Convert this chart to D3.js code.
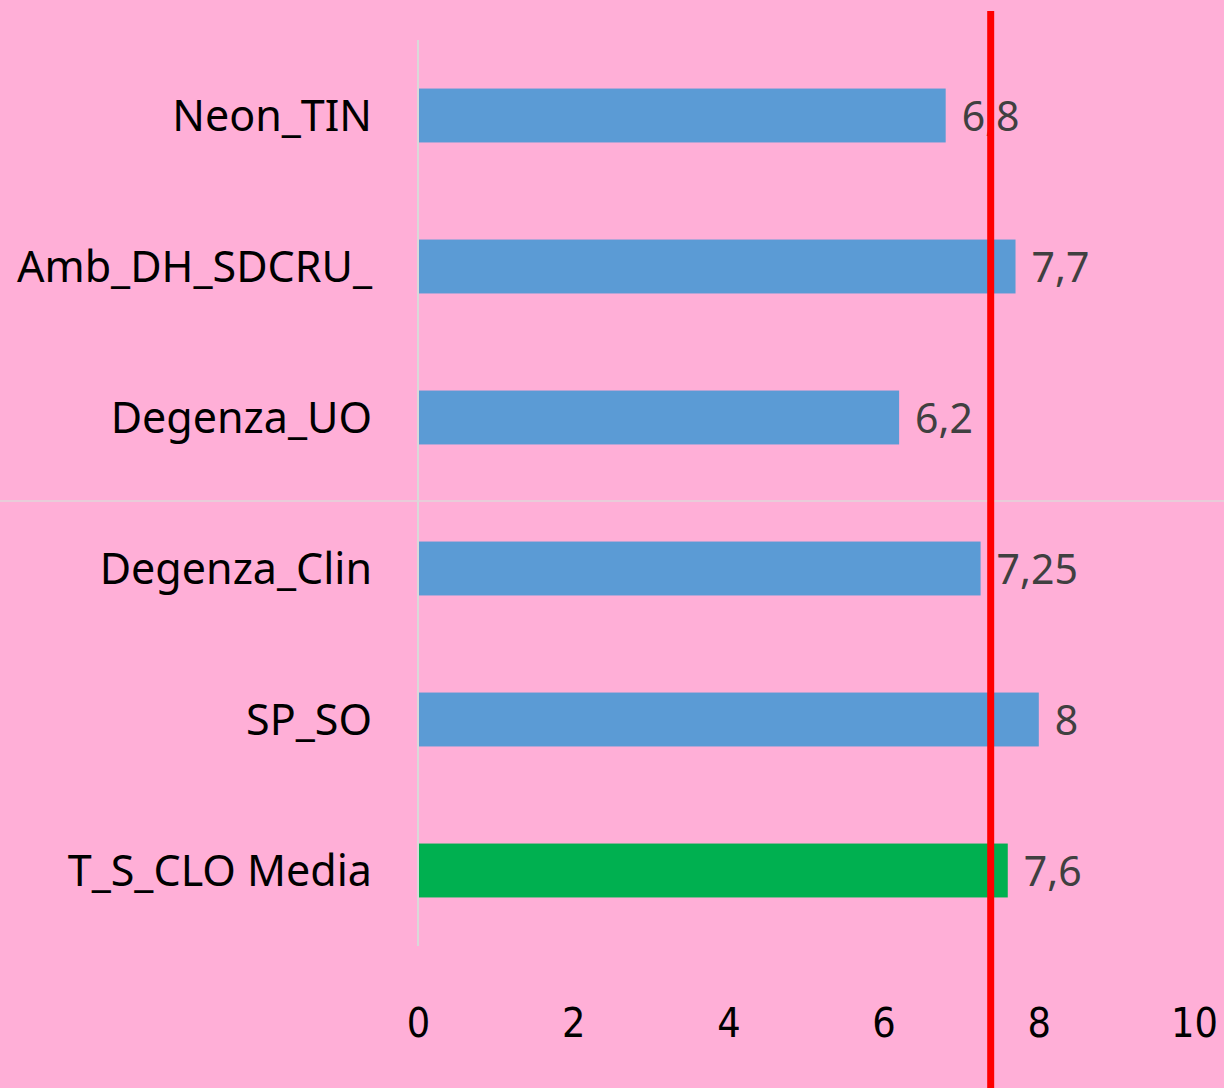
<!DOCTYPE html>
<html>
<head>
<meta charset="utf-8">
<script src="https://cdn.jsdelivr.net/npm/d3@7"></script>
<style>
  html, body { margin: 0; padding: 0; background: #FFAFD7; }
  svg { display: block; }
</style>
</head>
<body>
<div class="chart"></div>
<script>
const categories = ['Neon_TIN', 'Amb_DH_SDCRU_', 'Degenza_UO', 'Degenza_Clin', 'SP_SO', 'T_S_CLO Media'];
const values = [6.8, 7.7, 6.2, 7.25, 8, 7.6];
const labels = ['6,8', '7,7', '6,2', '7,25', '8', '7,6'];
const colors = ['#5B9BD5', '#5B9BD5', '#5B9BD5', '#5B9BD5', '#5B9BD5', '#00B050'];
const xTicks = [0, 2, 4, 6, 8, 10];
const refValue = 7.38;

const width = 1224, height = 1088;
const padding = {'left': 418, 'right': 30, 'top': 40, 'bottom': 142};
const fontFamily = "'Noto Sans', 'Open Sans', sans-serif";

let svg = d3.select('.chart')
    .append('svg')
    .attr('width', width)
    .attr('height', height);

svg.append('rect')
    .attr('width', width)
    .attr('height', height)
    .attr('fill', '#FFAFD7');

// faint horizontal line across the middle
svg.append('line')
    .attr('x1', 0).attr('x2', width)
    .attr('y1', 501).attr('y2', 501)
    .attr('stroke', '#E0D6DA')
    .attr('stroke-width', 1.5);

let x = d3.scaleLinear()
    .domain([0, 10])
    .range([padding.left, width - padding.right]);

let y = d3.scaleBand()
    .domain(categories)
    .range([padding.top, height - padding.bottom])
    .paddingInner(0.643)
    .paddingOuter(0.3215);

// value axis (labels only)
let axis_x = d3.axisBottom(x)
    .tickValues(xTicks)
    .tickSize(0)
    .tickPadding(0)
    .tickFormat(d => d);

let gx = svg.append('g')
    .attr('transform', `translate(0, 1037)`)
    .call(axis_x);
gx.select('.domain').remove();
gx.selectAll('text')
    .attr('dy', 0)
    .attr('fill', '#000')
    .attr('font-family', "'Liberation Sans Narrow', 'DejaVu Sans Condensed', sans-serif")
    .attr('font-size', '41px');

// category axis line
svg.append('line')
    .attr('x1', x(0)).attr('x2', x(0))
    .attr('y1', padding.top).attr('y2', height - padding.bottom)
    .attr('stroke', '#D9D9D9')
    .attr('stroke-width', 2);

// category labels
svg.append('g')
    .selectAll('text')
    .data(categories)
    .enter().append('text')
    .attr('x', 372)
    .attr('y', d => y(d) + y.bandwidth() / 2)
    .attr('dy', '0.35em')
    .attr('text-anchor', 'end')
    .attr('font-family', fontFamily)
    .attr('font-size', '43px')
    .attr('fill', '#000')
    .text(d => d);

// bars
svg.append('g')
    .selectAll('rect')
    .data(categories)
    .enter().append('rect')
    .attr('x', x(0) + 1)
    .attr('y', (d, i) => y(d))
    .attr('width', (d, i) => x(values[i]) - x(0) - 1)
    .attr('height', y.bandwidth())
    .attr('fill', (d, i) => colors[i]);

// value labels
svg.append('g')
    .selectAll('text')
    .data(categories)
    .enter().append('text')
    .attr('x', (d, i) => x(values[i]) + 16)
    .attr('y', (d, i) => y(d) + y.bandwidth() / 2)
    .attr('dy', '0.38em')
    .attr('font-family', fontFamily)
    .attr('font-size', '41px')
    .attr('fill', '#404040')
    .text((d, i) => labels[i]);

// reference line
svg.append('line')
    .attr('x1', x(refValue)).attr('x2', x(refValue))
    .attr('y1', 11).attr('y2', height)
    .attr('stroke', '#FF0000')
    .attr('stroke-width', 7);
</script>
</body>
</html>
